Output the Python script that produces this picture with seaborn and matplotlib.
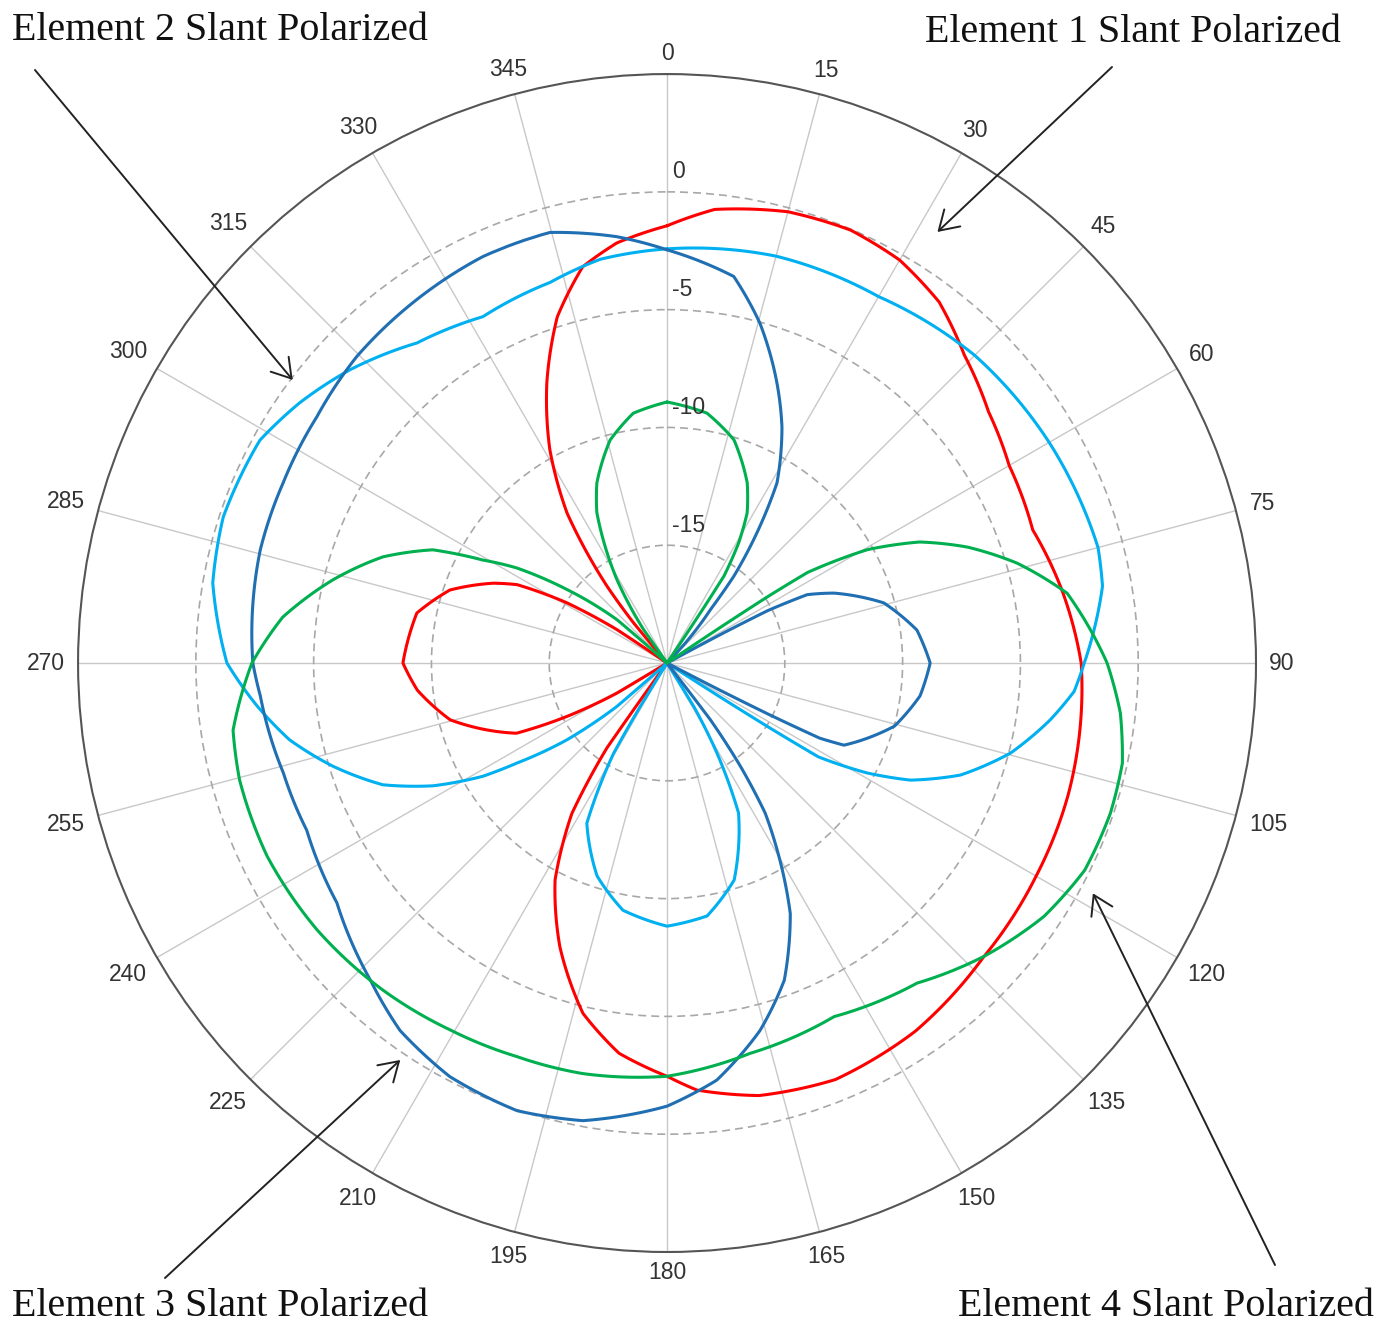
import numpy as np
import pandas as pd
import matplotlib
matplotlib.use("Agg")
import matplotlib.pyplot as plt
import matplotlib.transforms as mtransforms
import seaborn as sns

# pattern data: angle in degrees (clockwise from north), gain in dB
# -20 dB is the centre of the plot (nulls)
e1_deg = [0, 6, 15, 23, 30, 37, 44, 52, 60, 70, 80, 90, 99, 108, 120, 133, 146, 158, 168, 176,
          180, 187, 193.5, 200.7, 207.3, 212.3, 215.3, 215.6, 216, 238.6, 239, 241.9, 245, 255.3,
          263.8, 270, 281.3, 288.6, 294.7, 297.6, 301, 303.7, 304.2, 319.8, 320.2, 322, 326.3,
          331.2, 336.8, 342.4, 348, 353.2, 360]
e1_db = [-1.44, -0.64, -0.17, -0.04, -0.25, -0.81, -1.83, -2.68, -3.23, -3.48, -2.93, -2.42, -2.25,
         -2.08, -1.91, -1.66, -1.15, -0.93, -1.23, -1.83, -2.46, -3.31, -4.71, -7.13, -9.64, -12.44,
         -15.6, -17.75, -20, -20, -17.54, -15.2, -12.95, -10.49, -9.34, -8.79, -9.17, -10.28,
         -11.89, -12.82, -15.03, -17.45, -20, -20, -17.8, -15.88, -12.36, -9.68, -7.05, -4.59,
         -2.80, -2.04, -1.44]

e2_deg = [0, 15, 30, 45, 60, 75, 80, 90, 94, 98.5, 104.7, 110.9, 115.7, 118.8, 121.8, 122.3, 122.6,
          122.9, 148.1, 148.4, 151, 154.5, 162.8, 171, 180, 190.1, 198.2, 206.6, 210.6, 211.6,
          211.9, 228.8, 229.1, 232.5, 236.3, 238.4, 242.3, 246.8, 252.9, 258.5, 264, 270, 280,
          288.2, 298.7, 305.3, 312.7, 322, 332, 342.9, 350.6, 360]
e2_db = [-2.42, -2.12, -2.04, -1.53, -1.27, -1.06, -1.23, -2.29, -2.68, -3.57, -4.93, -6.67, -8.54,
         -10.32, -12.44, -14.99, -17.5, -20, -20, -17.83, -15.63, -12.95, -10.36, -9.13, -8.83,
         -9.34, -10.49, -12.4, -15.54, -17.83, -20, -20, -17.2, -14.65, -12.36, -10.83, -8.79,
         -6.88, -5.14, -3.65, -2.51, -1.32, -0.42, -0.17, -0.30, -0.89, -1.66, -2.76, -3.35,
         -3.10, -2.63, -2.42]

e3_deg = [0, 9.8, 15.3, 21.4, 26, 31.4, 35.3, 37.6, 39.1, 42.5, 43.5, 61.5, 61.9, 62.5, 64, 67.3,
          74.5, 82.5, 90, 97.4, 105.5, 114.9, 116.2, 116.8, 117.2, 117.5, 142.2, 142.6, 144.6,
          146.8, 149.5, 153.8, 159.7, 165.8, 173.2, 180, 190.4, 198.5, 207.7, 216, 223.1, 234,
          245.1, 254, 265.4, 270, 285.5, 295.1, 305.1, 314.6, 325.4, 335.6, 344.8, 353.3, 360]
e3_db = [-2.46, -3.35, -5.05, -7.22, -8.87, -11.04, -13.76, -15.37, -17.07, -18.85, -20, -20,
         -17.58, -15.2, -13.38, -12.31, -10.45, -9.30, -8.83, -9.17, -9.98, -11.72, -12.78, -15.24,
         -17.66, -20, -20, -16.99, -14.61, -12.4, -10.79, -8.15, -5.65, -3.91, -2.17, -1.19, -0.25,
         0.04, -0.17, -0.72, -1.57, -2.68, -3.14, -3.06, -2.68, -2.42, -2.08, -2.0, -1.83, -1.49,
         -1.27, -1.06, -1.06, -1.78, -2.46]

e4_deg = [0, 9.1, 16.7, 24, 28.1, 30.8, 33.2, 33.6, 34.0, 55.8, 56.2, 56.6, 57.2, 60.5, 64.4,
          68.9, 74.1, 80.1, 90, 96.3, 102.4, 108.7, 116.4, 123.9, 132.7, 142, 154.7, 168, 180,
          191.6, 200.9, 210.6, 221, 232.7, 244.2, 254.7, 261.2, 270, 276.8, 284, 290.5, 295.8,
          299.2, 302.3, 306.3, 310.9, 311.8, 324.6, 325, 329, 335, 338.7, 345.7, 352.3, 360]
e4_db = [-8.92, -9.26, -10.11, -11.63, -12.78, -14.06, -15.58, -17.28, -20, -20, -17.5, -14.9,
         -12.9, -10.23, -8.11, -6.33, -4.54, -2.76, -1.32, -0.64, -0.21, -0.13, -0.21, -0.72,
         -1.66, -2.76, -3.40, -3.06, -2.46, -2.21, -2.12, -1.91, -1.61, -1.32, -1.15, -1.19, -1.36,
         -2.38, -3.57, -5.39, -7.13, -8.96, -11.04, -12.44, -14.73, -17.2, -20, -20, -18.26,
         -15.88, -12.95, -11.80, -10.23, -9.30, -8.92]

elements = ["Element 1", "Element 2", "Element 3", "Element 4"]
colors = ["#FF0000", "#00B0F0", "#1F6FB2", "#00B050"]

angle_ticks = list(range(0, 360, 15))
r_ticks = [-15, -10, -5, 0]
r_min, r_max = -20, 5

# callouts: target on the pattern (deg, dB), arrow tail and text position in pixels
callout_text = ["Element 1 Slant Polarized", "Element 2 Slant Polarized",
                "Element 3 Slant Polarized", "Element 4 Slant Polarized"]
tip_deg = [32.1, 307.1, 213.9, 118.4]
tip_db = [1.6, -0.08, 0.3, 0.55]
tail_px = [(1112, 67), (35, 70), (165, 1278), (1275, 1265)]
text_px = [(925, 42), (12, 40), (12, 1316), (958, 1316)]

frames = []
for name, d, g in zip(elements, [e1_deg, e2_deg, e3_deg, e4_deg], [e1_db, e2_db, e3_db, e4_db]):
    frames.append(pd.DataFrame({"theta": np.deg2rad(d), "gain": g, "element": name}))
df = pd.concat(frames, ignore_index=True)

sns.set_theme(style="white")
W, H = 1379, 1325
fig = plt.figure(figsize=(W / 100, H / 100), dpi=100)
fig.patch.set_facecolor("white")
ax = fig.add_axes([0.0566, 0.0551, 0.8542, 0.889], projection="polar")
ax.set_facecolor("white")

sns.lineplot(data=df, x="theta", y="gain", hue="element", palette=colors, sort=False,
             estimator=None, linewidth=2.2, legend=False, ax=ax, zorder=3)
# draw the segments between read points along the polar grid instead of as chords
for line in ax.lines:
    line.get_path()._interpolation_steps = 24

ax.set_theta_zero_location("N")
ax.set_theta_direction(-1)
ax.set_ylim(r_min, r_max)
ax.set_xticks(np.deg2rad(angle_ticks))
ax.set_xticklabels([])
ax.set_yticks(r_ticks)
ax.set_yticklabels([])
ax.set_xlabel("")
ax.set_ylabel("")
ax.set_axisbelow(True)
ax.grid(axis="x", color="#C8C8C8", linewidth=1.0, linestyle="-")
ax.grid(axis="y", color="#A8A8A8", linewidth=1.2, linestyle=(0, (4.8, 3)))
ax.spines["polar"].set_color("#555555")
ax.spines["polar"].set_linewidth(1.5)
ax.tick_params(axis="both", length=0)

# angle labels: keep a constant gap between the outer ring and the label box
px_per_db = ax.get_position().width * W / 2 / (r_max - r_min)
gap = 13
for a in angle_ticks:
    s = str(a)
    th = np.deg2rad(a)
    w, h = 12.8 * len(s), 16.0
    d = gap + 0.5 * w * abs(np.sin(th)) + 0.5 * h * abs(np.cos(th))
    ax.text(th, r_max + d / px_per_db, s, ha="center", va="center",
            fontsize=16.5, color="#333333", family="Liberation Sans")

rl_trans = mtransforms.offset_copy(ax.transData, fig=fig, x=5, y=20, units="dots")
for r in r_ticks:
    ax.text(0, r, str(r), transform=rl_trans, ha="left", va="center",
            fontsize=16.5, color="#333333", family="Liberation Sans")

for txt, td, tg, (tx, ty), (lx, ly) in zip(callout_text, tip_deg, tip_db, tail_px, text_px):
    ax.annotate("", xy=(np.deg2rad(td), tg), xycoords="data",
                xytext=(tx / W, 1 - ty / H), textcoords="figure fraction",
                arrowprops=dict(arrowstyle="->,head_length=0.67,head_width=0.42",
                                color="#222222", lw=1.4, shrinkA=0, shrinkB=0,
                                mutation_scale=20),
                annotation_clip=False)
    fig.text(lx / W, 1 - ly / H, txt, ha="left", va="baseline", fontsize=28.8,
             color="#111111", family="Liberation Serif")

fig.savefig("out.png", dpi=100)
